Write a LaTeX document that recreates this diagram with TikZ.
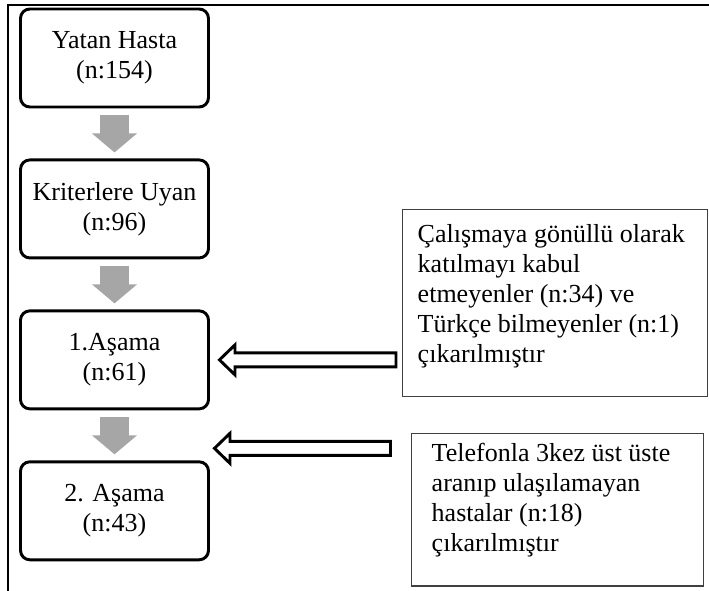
\documentclass[tikz,border=0pt]{standalone}
\usepackage{fontspec}
\setmainfont{Liberation Serif}
\usepackage{xcolor}
\usetikzlibrary{calc, positioning, arrows.meta}

\newcommand{\boxfont}{\fontsize{19.5}{22.5}\selectfont}

\tikzset{
	flowbox/.style = {draw, line width = 2.2pt, rounded corners = 7pt, minimum width = 141pt, minimum height = 73.5pt, align = center, font = \boxfont},
	notebox/.style = {draw = black!75, line width = 1.1pt, anchor = north west, align = flush left, font = \boxfont},
	flowarrow/.style = {draw = black!35, line width = 21.75pt, -{Triangle[width = 33pt, length = 14.25pt]}, shorten <= 5.25pt, shorten >= 4.5pt},
	hollowarrow/.style = {draw, fill = white, line width = 2.2pt}
}

\begin{document}
\begin{tikzpicture}[x = 0.75pt, y = -0.75pt]
		\useasboundingbox (0, 0) rectangle (709, 591);
		
		% frame
		\draw [line width = 2pt] (709, 5) -| (8, 591);
		
		% flow
		\node [flowbox] (b1) at (114.5, 58) {Yatan Hasta\\(n:154)};
		\node [flowbox, below = 37.5pt of b1] (b2) {Kriterlere Uyan\\(n:96)};
		\node [flowbox, below = 37.5pt of b2] (b3) {1.Aşama\\(n:61)};
		\node [flowbox, below = 37.5pt of b3] (b4) {2. Aşama\\(n:43)};
		
		\draw [flowarrow] (b1) -- (b2);
		\draw [flowarrow] (b2) -- (b3);
		\draw [flowarrow] (b3) -- (b4);
		
		% excluded
		\node [notebox, text width = 206pt, inner xsep = 11.25pt, inner ysep = 11pt, text depth = 104.5pt] (cA) at (402, 209) {Çalışmaya gönüllü olarak\\katılmayı kabul\\etmeyenler (n:34) ve\\Türkçe bilmeyenler (n:1)\\çıkarılmıştır};
		\node [notebox, text width = 189pt, inner xsep = 15pt, inner ysep = 7pt, text depth = 86.3pt] (cB) at (411, 433) {Telefonla 3kez üst üste\\aranıp ulaşılamayan\\hastalar (n:18)\\çıkarılmıştır};
		
		\draw [hollowarrow] ($(b3.east) + (9.5, 0)$) -- ++(15.5, -15) -- ++(0, 8) coordinate (sA) -- ($(sA -| cA.west) + (-6, 0)$) -- ++(0, 14) coordinate (eA) -- (sA |- eA) -- ++(0, 8) -- cycle;
		\draw [hollowarrow] ($(b4.north east) + (4.5, -12)$) -- ++(15.5, -15) -- ++(0, 8) coordinate (sB) -- ($(sB -| cB.west) + (-20.5, 0)$) -- ++(0, 14) coordinate (eB) -- (sB |- eB) -- ++(0, 8) -- cycle;
	\end{tikzpicture}
\end{document}
